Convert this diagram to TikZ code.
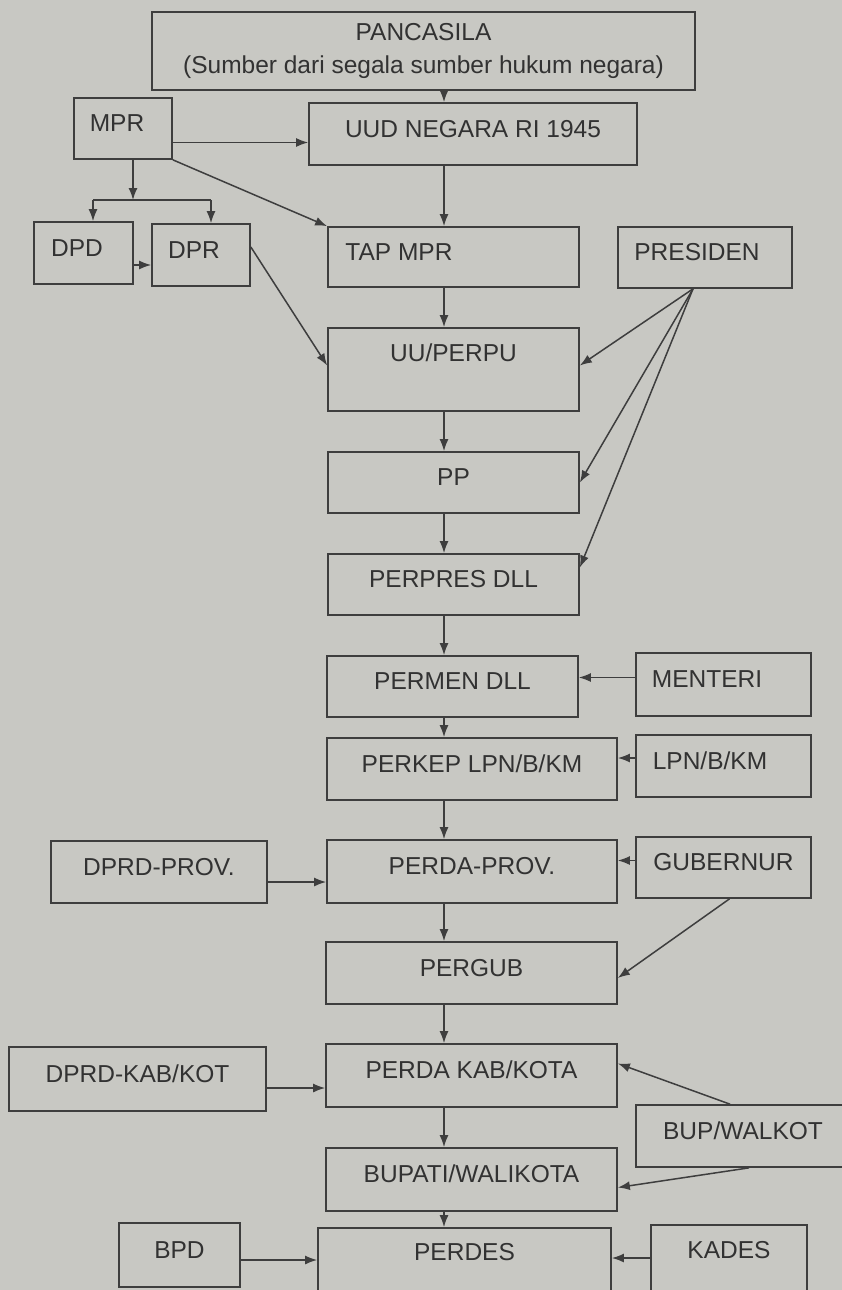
\documentclass[tikz,border=0pt]{standalone}
\usepackage{fontspec}
\setmainfont{Liberation Sans}
\usetikzlibrary{arrows.meta,calc}
\definecolor{bg}{RGB}{200,200,195}
\definecolor{ink}{RGB}{62,62,62}
\definecolor{txt}{RGB}{50,50,50}
\begin{document}
\begin{tikzpicture}[x=1pt,y=-1pt,
  frame/.style={draw=ink,line width=1.7pt,inner sep=0pt,text=txt,font=\fontsize{24.5}{33}\selectfont},
  box/.style={frame,text height=17.5pt,text depth=11pt},
  arr/.style={draw=ink,line width=1.5pt,-{Latex[length=12pt,width=9pt]}},
  ln/.style={draw=ink,line width=1.5pt}]
\useasboundingbox (0,0) rectangle (842,1290);
\fill[bg] (0,0) rectangle (842,1290);
\clip (0,0) rectangle (842,1290);
% boxes
\node[frame,minimum width=543pt,minimum height=78pt,align=center] (pan) at (423.5,51) {PANCASILA\\(Sumber dari segala sumber hukum negara)};
\node[box,minimum width=98pt,minimum height=61pt] (mpr) at (123,128.5) {MPR\kern12pt};
\node[box,minimum width=328pt,minimum height=62pt] (uud) at (473,134) {UUD NEGARA RI 1945};
\node[box,minimum width=99pt,minimum height=62pt] (dpd) at (83.5,253) {DPD\kern13pt};
\node[box,minimum width=98pt,minimum height=62pt] (dpr) at (201,255) {DPR\kern14pt};
\node[box,minimum width=251pt,minimum height=60pt] (tap) at (453.5,257) {TAP MPR\kern109pt};
\node[box,minimum width=174pt,minimum height=61pt] (pres) at (705,257.5) {PRESIDEN\kern16pt};
\node[box,minimum width=251pt,minimum height=83pt,text depth=33pt] (uu) at (453.5,369.5) {UU/PERPU};
\node[box,minimum width=251pt,minimum height=61pt] (pp) at (453.5,482.5) {PP};
\node[box,minimum width=251pt,minimum height=61pt] (perpres) at (453.5,584.5) {PERPRES DLL};
\node[box,minimum width=251pt,minimum height=61pt] (permen) at (452.5,686.5) {PERMEN DLL};
\node[box,minimum width=175pt,minimum height=63pt] (menteri) at (723.5,684.5) {MENTERI\kern33pt};
\node[box,minimum width=290pt,minimum height=62pt] (perkep) at (472,769) {PERKEP LPN/B/KM};
\node[box,minimum width=175pt,minimum height=62pt] (lpn) at (723.5,766) {LPN/B/KM\kern27pt};
\node[box,minimum width=290pt,minimum height=63pt] (pdprov) at (472,871.5) {PERDA-PROV.};
\node[box,minimum width=216pt,minimum height=62pt] (dprdprov) at (159,872) {DPRD-PROV.};
\node[box,minimum width=175pt,minimum height=61pt] (gub) at (723.5,867.5) {GUBERNUR};
\node[box,minimum width=291pt,minimum height=62pt] (pergub) at (471.5,973) {PERGUB};
\node[box,minimum width=291pt,minimum height=63pt] (pdkab) at (471.5,1075.5) {PERDA KAB/KOTA};
\node[box,minimum width=257pt,minimum height=64pt] (dprdkab) at (137.5,1079) {DPRD-KAB/KOT};
\node[box,minimum width=214pt,minimum height=62pt] (bup) at (743,1136) {BUP/WALKOT};
\node[box,minimum width=291pt,minimum height=63pt] (bupati) at (471.5,1179.5) {BUPATI/WALIKOTA};
\node[box,minimum width=293pt,minimum height=72pt,text depth=24pt] (perdes) at (464.5,1264) {PERDES};
\node[box,minimum width=121pt,minimum height=64pt] (bpd) at (179.5,1255) {BPD};
\node[box,minimum width=156pt,minimum height=66pt,text depth=16pt] (kades) at (729,1258) {KADES};
% connectors
\coordinate (col) at (444,0);
\draw[arr] (pan.south -| col) -- (uud.north -| col);
\coordinate (m1) at ($(mpr.east)+(0,14)$);
\draw[arr] (m1) -- (m1 -| uud.west);
\draw[arr] (mpr.south east) -- (tap.north west);
\coordinate (bj) at (133,200);
\coordinate (bl) at (93,200);
\coordinate (bk) at (211,200);
\draw[arr] (mpr.south -| bj) -- (bj);
\draw[ln] (bl) -- (bk);
\draw[arr] (bl) -- (bl |- dpd.north);
\draw[arr] (bk) -- (bk |- dpr.north);
\coordinate (d1) at ($(dpd.east)+(0,12)$);
\draw[arr] (d1) -- (d1 -| dpr.west);
\draw[arr] ($(dpr.east)+(0,-8)$) -- ($(uu.west)+(0,-4)$);
\draw[arr] (uud.south -| col) -- (tap.north -| col);
\draw[arr] (tap.south -| col) -- (uu.north -| col);
\draw[arr] (uu.south -| col) -- (pp.north -| col);
\draw[arr] (pp.south -| col) -- (perpres.north -| col);
\draw[arr] (perpres.south -| col) -- (permen.north -| col);
\draw[arr] (permen.south -| col) -- (perkep.north -| col);
\draw[arr] (perkep.south -| col) -- (pdprov.north -| col);
\draw[arr] (pdprov.south -| col) -- (pergub.north -| col);
\draw[arr] (pergub.south -| col) -- (pdkab.north -| col);
\draw[arr] (pdkab.south -| col) -- (bupati.north -| col);
\draw[arr] (bupati.south -| col) -- (perdes.north -| col);
\coordinate (ps) at ($(pres.south)+(-12,0)$);
\draw[arr] (ps) -- ($(uu.east)+(0,-4)$);
\draw[arr] (ps) -- (pp.east);
\draw[arr] (ps) -- ($(perpres.east)+(0,-17)$);
\coordinate (me) at ($(menteri.west)+(0,-7)$);
\draw[arr] (me) -- (me -| permen.east);
\coordinate (lp) at ($(lpn.west)+(0,-8)$);
\draw[arr] (lp) -- (lp -| perkep.east);
\coordinate (dp) at ($(dprdprov.east)+(0,10)$);
\draw[arr] (dp) -- (dp -| pdprov.west);
\coordinate (gb) at ($(gub.west)+(0,-7)$);
\draw[arr] (gb) -- (gb -| pdprov.east);
\draw[arr] ($(gub.south)+(6,0)$) -- ($(pergub.east)+(0,5)$);
\coordinate (dk) at ($(dprdkab.east)+(0,9)$);
\draw[arr] (dk) -- (dk -| pdkab.west);
\draw[arr] ($(bup.north)+(-13,0)$) -- ($(pdkab.east)+(0,-12)$);
\draw[arr] ($(bup.south)+(6,0)$) -- ($(bupati.east)+(0,8)$);
\coordinate (bp) at ($(bpd.east)+(0,5)$);
\draw[arr] (bp) -- (bp -| perdes.west);
\coordinate (kd) at ($(kades.west)+(0,0)$);
\draw[arr] (kd) -- (kd -| perdes.east);
\end{tikzpicture}
\end{document}
